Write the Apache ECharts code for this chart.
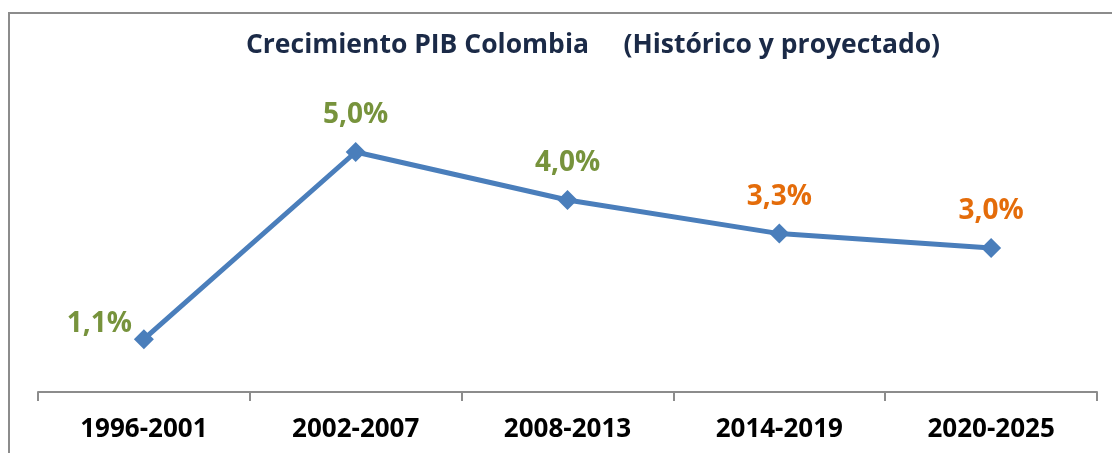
<!DOCTYPE html>
<html>
<head>
<meta charset="utf-8">
<script src="https://cdn.jsdelivr.net/npm/echarts@6/dist/echarts.min.js"></script>
<style>
  html, body { margin: 0; padding: 0; background: #fff; }
  #chart { width: 1112px; height: 453px; }
</style>
</head>
<body>
<div id="chart"></div>
<script>
const periods = ['1996-2001', '2002-2007', '2008-2013', '2014-2019', '2020-2025'];
const growth = [1.1, 5.0, 4.0, 3.3, 3.0];
const labelColors = ['#77933C', '#77933C', '#77933C', '#E46C0A', '#E46C0A'];

const fontFam = '"Open Sans", "Noto Sans", sans-serif';

const pts = growth.map((v, i) => ({
  value: v,
  label: {
    color: labelColors[i],
    position: i === 0 ? 'left' : 'top',
    distance: i === 0 ? 2 : 13,
    offset: i === 0 ? [0, -15] : [0, 0]
  }
}));

let myChart = echarts.init(document.getElementById('chart'));
myChart.setOption({
  animation: false,
  title: {
    text: 'Crecimiento PIB Colombia     (Histórico y proyectado)',
    left: 588,
    textAlign: 'center',
    top: 27,
    textStyle: {
      fontFamily: fontFam,
      fontSize: 26.5,
      fontWeight: 'bold',
      color: '#1B2A47'
    }
  },
  graphic: [{
    type: 'rect',
    shape: { x: 9, y: 13, width: 1120, height: 460 },
    style: { fill: 'none', stroke: '#8c8c8c', lineWidth: 2 },
    silent: true
  }],
  grid: {
    left: 38,
    right: 15,
    top: 104,
    bottom: 61
  },
  xAxis: {
    type: 'category',
    data: periods,
    boundaryGap: true,
    axisLine: { lineStyle: { color: '#8c8c8c', width: 2 } },
    axisTick: { show: true, length: 9, lineStyle: { color: '#8c8c8c', width: 2 } },
    axisLabel: {
      margin: 25,
      color: '#000',
      fontFamily: fontFam,
      fontSize: 26,
      fontWeight: 'bold'
    }
  },
  yAxis: {
    type: 'value',
    min: 0,
    max: 6,
    show: false,
    splitLine: { show: false }
  },
  series: [{
    type: 'line',
    data: pts,
    symbol: 'diamond',
    symbolSize: 20,
    itemStyle: { color: '#4A7EBB' },
    lineStyle: { color: '#4A7EBB', width: 5 },
    label: {
      show: true,
      fontFamily: fontFam,
      fontSize: 28,
      fontWeight: 'bold',
      formatter: p => p.value.toFixed(1).replace('.', ',') + '%'
    }
  }]
});
</script>
</body>
</html>
